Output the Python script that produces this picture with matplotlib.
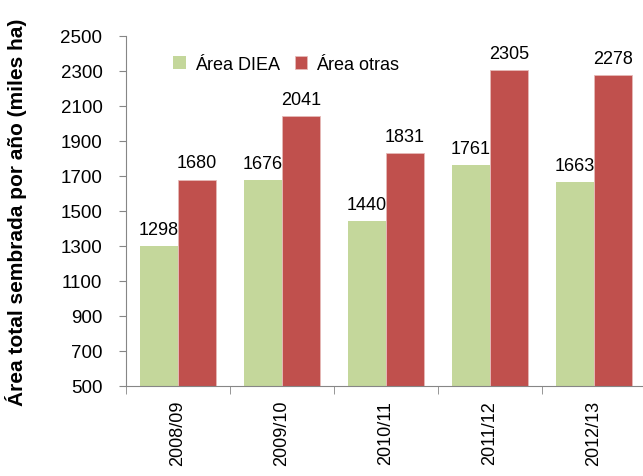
import numpy as np
import matplotlib
matplotlib.use('Agg')
import matplotlib.pyplot as plt

plt.rcParams['font.family'] = ['Liberation Sans', 'DejaVu Sans']

campanas = ["2008/09", "2009/10", "2010/11", "2011/12", "2012/13"]
area_diea = [1298, 1676, 1440, 1761, 1663]
area_otras = [1680, 2041, 1831, 2305, 2278]

verde = "#C4D79B"
rojo = "#C0504D"
gris = "#868686"

fig = plt.figure(figsize=(6.43, 4.77), dpi=100)
ax = fig.add_axes([126 / 643, 90 / 477, 520 / 643, 350 / 477])

x = np.arange(len(campanas))
w = 0.365
b1 = ax.bar(x - w / 2, area_diea, w, color=verde, label="Área DIEA")
b2 = ax.bar(x + w / 2, area_otras, w, color=rojo, edgecolor="#E6B9B8",
            linewidth=0.6, label="Área otras")

for barras, vals in [(b1, area_diea), (b2, area_otras)]:
    for r, v in zip(barras, vals):
        ax.annotate(str(v), (r.get_x() + r.get_width() / 2, v),
                    xytext=(0, 6), textcoords="offset points",
                    ha="center", va="bottom", fontsize=13)

ax.set_ylim(500, 2500)
ax.set_yticks(range(500, 2501, 200))
ax.set_xlim(-0.5, len(campanas) - 0.5)
ax.set_xticks(x)
ax.set_xticklabels(campanas, rotation=90, fontsize=13)
ax.set_xticks(np.arange(-0.5, len(campanas)), minor=True)
ax.tick_params(axis="x", which="major", length=0, pad=10)
ax.tick_params(axis="x", which="minor", length=6, color=gris, direction="out")
ax.tick_params(axis="y", labelsize=13.5, length=5, color=gris, direction="out", pad=12)

for s in ["top", "right"]:
    ax.spines[s].set_visible(False)
for s in ["left", "bottom"]:
    ax.spines[s].set_color(gris)

ax.set_ylabel("Área total sembrada por año (miles ha)", fontsize=15,
              fontweight="bold")
ax.yaxis.set_label_coords(-0.19, 0.5)

ax.legend(loc="upper left", bbox_to_anchor=(0.06, 0.99), ncol=2, frameon=False,
          fontsize=13, handlelength=0.7, handleheight=0.7, handletextpad=0.5,
          columnspacing=0.8)

fig.savefig("out.png", dpi=100)
